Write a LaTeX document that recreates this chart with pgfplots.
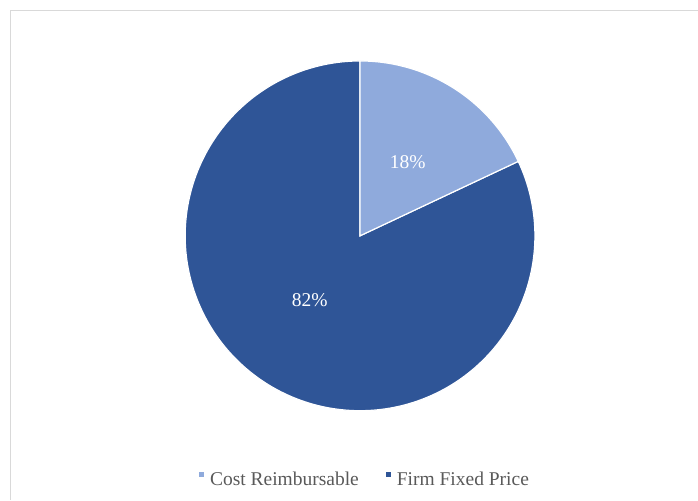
\documentclass[border=0pt]{standalone}
\usepackage{pgfplots}
\pgfplotsset{compat=1.18}
\usepackage{fontspec}
\setmainfont{Liberation Serif}
\definecolor{lightslice}{HTML}{8FAADC}
\definecolor{darkslice}{HTML}{2F5597}
\definecolor{legtext}{HTML}{595959}
\definecolor{frame}{HTML}{D9D9D9}
% pie values (percent)
\def\valCost{18}
\def\valFirm{82}
\def\cx{360.3}
\def\cy{264}
\def\R{175}
\begin{document}
\begin{tikzpicture}
\begin{axis}[
  width=698pt, height=500pt, scale only axis,
  xmin=0, xmax=698, ymin=0, ymax=500,
  axis lines=none, clip=false,
  legend columns=2,
  legend image code/.code={\path[#1, draw=none] (0pt,3pt) rectangle (5pt,8pt);},
  legend style={draw=none, fill=none, at={(axis cs:199,20)}, anchor=base west,
    font=\fontsize{19.5}{23}\selectfont, text=legtext,
    /tikz/every odd column/.append style={column sep=4pt},
    /tikz/every even column/.append style={column sep=25pt},
    inner sep=0pt, row sep=0pt},
]
\path (rel axis cs:0,0) rectangle (rel axis cs:1,1);
\addplot[forget plot, fill=darkslice, draw=white, line width=1.2pt, domain={90-3.6*\valCost-3.6*\valFirm}:{90-3.6*\valCost}, samples=200, variable=\t]
  ({\cx+\R*cos(\t)},{\cy+\R*sin(\t)}) -- (axis cs:\cx,\cy) -- cycle;
\addplot[forget plot, fill=lightslice, draw=white, line width=1.2pt, domain={90-3.6*\valCost}:90, samples=60, variable=\t]
  ({\cx+\R*cos(\t)},{\cy+\R*sin(\t)}) -- (axis cs:\cx,\cy) -- cycle;
\addlegendimage{fill=lightslice}
\addlegendentry{Cost Reimbursable}
\addlegendimage{fill=darkslice}
\addlegendentry{Firm Fixed Price}
\node[text=white, font=\fontsize{19.5}{23}\selectfont] at (axis cs:408,338) {18\%};
\node[text=white, font=\fontsize{19.5}{23}\selectfont] at (axis cs:310,200) {82\%};
\draw[frame, line width=1pt] (axis cs:10.5,0) -- (axis cs:10.5,489) -- (axis cs:698,489);
\end{axis}
\end{tikzpicture}
\end{document}
